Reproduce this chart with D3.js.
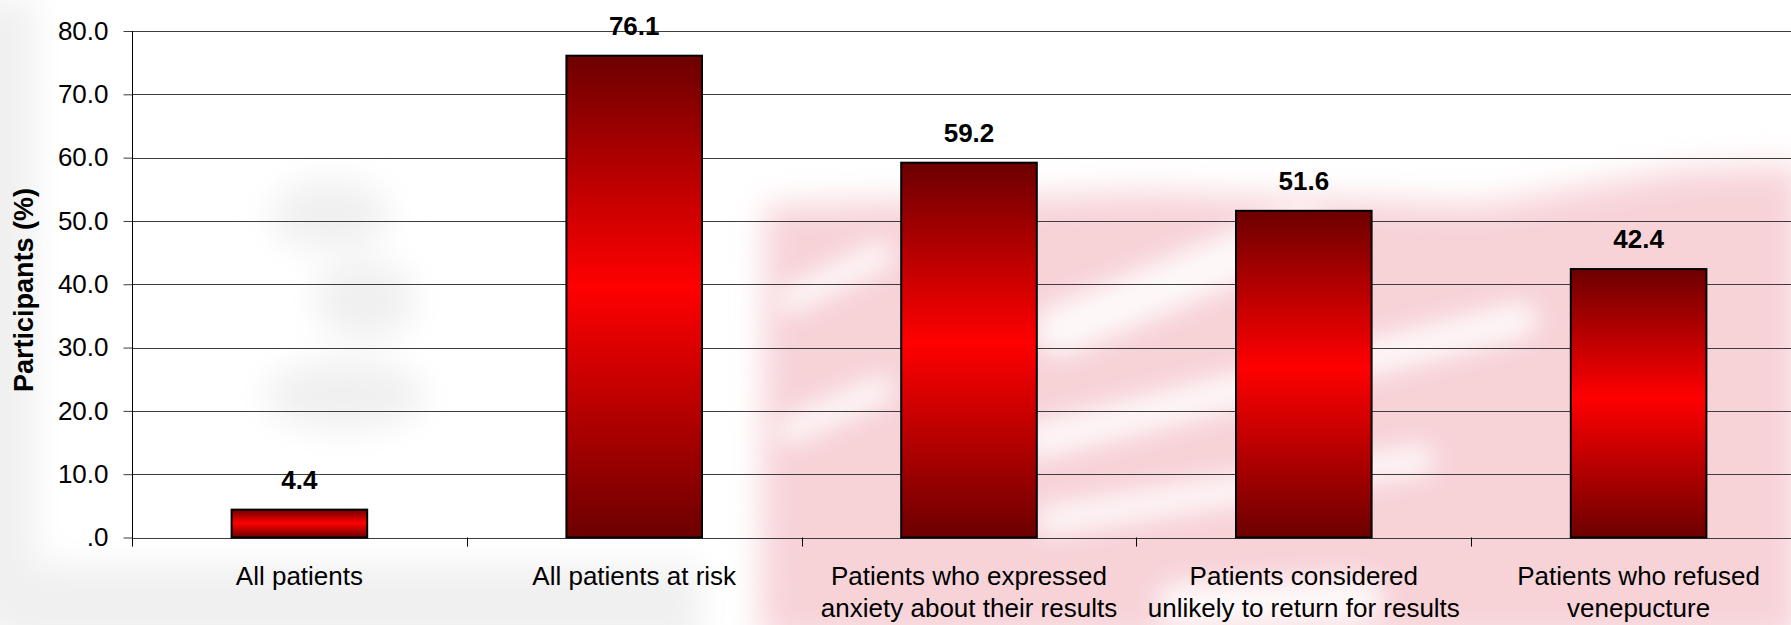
<!DOCTYPE html>
<html>
<head>
<meta charset="utf-8">
<script src="https://cdn.jsdelivr.net/npm/d3@7"></script>
<style>
  html, body { margin: 0; padding: 0; background: #ffffff; }
  svg { display: block; }
  text { font-family: "Liberation Sans", Arial, sans-serif; fill: #000; }
</style>
</head>
<body>
<svg id="chart" width="1791" height="625"></svg>
<script>
// ---- data ----
const categories = [
  "All patients",
  "All patients at risk",
  "Patients who expressed\nanxiety about their results",
  "Patients considered\nunlikely to return for results",
  "Patients who refused\nvenepucture"
];
const values = [4.4, 76.1, 59.2, 51.6, 42.4];
const yTicks = [0, 10, 20, 30, 40, 50, 60, 70, 80];
const yTitle = "Participants (%)";

// ---- layout ----
const W = 1791, H = 625;
const plotLeft = 132, step = 334.8, plotRight = plotLeft + step * categories.length;
const plotTop = 31, plotBottom = 537.5;

const svg = d3.select("#chart");
const defs = svg.append("defs");

// background blur filters
defs.append("filter").attr("id", "blur").attr("x", "-20%").attr("y", "-20%")
  .attr("width", "140%").attr("height", "140%")
  .append("feGaussianBlur").attr("stdDeviation", 16);
defs.append("filter").attr("id", "blur2").attr("x", "-30%").attr("y", "-30%")
  .attr("width", "160%").attr("height", "160%")
  .append("feGaussianBlur").attr("stdDeviation", 12);

// bar gradient
const grad = defs.append("linearGradient").attr("id", "barGrad")
  .attr("x1", 0).attr("y1", 0).attr("x2", 0).attr("y2", 1);
grad.append("stop").attr("offset", "0%").attr("stop-color", "#6c0000");
grad.append("stop").attr("offset", "48%").attr("stop-color", "#ff0000");
grad.append("stop").attr("offset", "100%").attr("stop-color", "#6c0000");

// ---- faded background watermark ----
const bg = svg.append("g").attr("class", "background");
bg.append("rect").attr("width", W).attr("height", H).attr("fill", "#ffffff");
const grey = bg.append("g").attr("filter", "url(#blur)").attr("fill", "#f0f0f0");
grey.append("rect").attr("x", -30).attr("y", 0).attr("width", 65).attr("height", H);
grey.append("ellipse").attr("cx", 330).attr("cy", 215).attr("rx", 60).attr("ry", 35);
grey.append("ellipse").attr("cx", 365).attr("cy", 300).attr("rx", 50).attr("ry", 40);
grey.append("ellipse").attr("cx", 345).attr("cy", 395).attr("rx", 80).attr("ry", 35);
grey.append("rect").attr("x", 0).attr("y", 565).attr("width", 700).attr("height", 80);

const pink = bg.append("g").attr("filter", "url(#blur)").attr("fill", "#f7d3d8");
pink.append("path")
  .attr("d", "M765,205 L1150,192 L1480,205 L1680,170 L1800,165 L1800,640 L760,640 Z");
const streaks = bg.append("g").attr("filter", "url(#blur2)")
  .attr("stroke", "#ffffff").attr("stroke-linecap", "round").attr("fill", "none").attr("opacity", 0.85);
streaks.append("line").attr("x1", 1060).attr("y1", 330).attr("x2", 1300).attr("y2", 230).attr("stroke-width", 50);
streaks.append("line").attr("x1", 1040).attr("y1", 440).attr("x2", 1520).attr("y2", 320).attr("stroke-width", 34);
streaks.append("line").attr("x1", 1050).attr("y1", 520).attr("x2", 1420).attr("y2", 460).attr("stroke-width", 28);
streaks.append("line").attr("x1", 790).attr("y1", 300).attr("x2", 880).attr("y2", 255).attr("stroke-width", 26);
streaks.append("line").attr("x1", 790).attr("y1", 430).attr("x2", 880).attr("y2", 390).attr("stroke-width", 26);
streaks.append("line").attr("x1", 1180).attr("y1", 605).attr("x2", 1360).attr("y2", 600).attr("stroke-width", 46);

// ---- scales ----
const x = d3.scaleBand().domain(categories).range([plotLeft, plotRight])
  .paddingInner(0.595).paddingOuter(0.2975);
const y = d3.scaleLinear().domain([0, 80]).range([plotBottom, plotTop]);

// gridlines
svg.append("g").selectAll("line").data(yTicks).join("line")
  .attr("x1", plotLeft).attr("x2", plotRight)
  .attr("y1", d => Math.round(y(d)) + 0.5).attr("y2", d => Math.round(y(d)) + 0.5)
  .attr("stroke", "#3c3c3c").attr("stroke-width", 1);

// y axis
const yAxis = d3.axisLeft(y).tickValues(yTicks).tickSize(9).tickPadding(15)
  .tickFormat(d => d === 0 ? ".0" : d3.format(".1f")(d));
const gy = svg.append("g").attr("transform", `translate(${plotLeft + 0.5},0)`).call(yAxis);
gy.select(".domain").remove();
gy.selectAll(".tick line").attr("stroke", "#3c3c3c");
gy.selectAll(".tick text").attr("font-size", 26).attr("font-family", "Liberation Sans, Arial, sans-serif").attr("fill", "#000");
svg.append("line").attr("x1", plotLeft + 0.5).attr("x2", plotLeft + 0.5)
  .attr("y1", plotTop).attr("y2", plotBottom + 9).attr("stroke", "#000").attr("stroke-width", 1);

// x axis ticks at band boundaries
const bounds = d3.range(1, categories.length).map(i => plotLeft + i * x.step());
svg.append("g").selectAll("line").data(bounds).join("line")
  .attr("x1", d => Math.round(d) + 0.5).attr("x2", d => Math.round(d) + 0.5)
  .attr("y1", plotBottom).attr("y2", plotBottom + 9)
  .attr("stroke", "#000").attr("stroke-width", 1);

// bars
svg.append("g").selectAll("rect").data(values).join("rect")
  .attr("x", (d, i) => x(categories[i]))
  .attr("y", d => y(d))
  .attr("width", x.bandwidth())
  .attr("height", d => y(0) - y(d))
  .attr("fill", "url(#barGrad)")
  .attr("stroke", "#000").attr("stroke-width", 2);

// value labels
svg.append("g").selectAll("text").data(values).join("text")
  .attr("x", (d, i) => x(categories[i]) + x.bandwidth() / 2)
  .attr("y", d => y(d) - 21)
  .attr("text-anchor", "middle")
  .attr("font-size", 26).attr("font-weight", "bold")
  .text(d => d3.format(".1f")(d));

// category labels
const cat = svg.append("g").selectAll("text").data(categories).join("text")
  .attr("x", d => x(d) + x.bandwidth() / 2)
  .attr("y", 585)
  .attr("text-anchor", "middle")
  .attr("font-size", 26);
cat.selectAll("tspan").data(d => d.split("\n")).join("tspan")
  .attr("x", function() { return d3.select(this.parentNode).attr("x"); })
  .attr("dy", (d, i) => i === 0 ? 0 : 32)
  .text(d => d);

// y title
svg.append("text")
  .attr("transform", "translate(33,290) rotate(-90)")
  .attr("text-anchor", "middle")
  .attr("font-size", 27).attr("font-weight", "bold")
  .text(yTitle);
</script>
</body>
</html>
